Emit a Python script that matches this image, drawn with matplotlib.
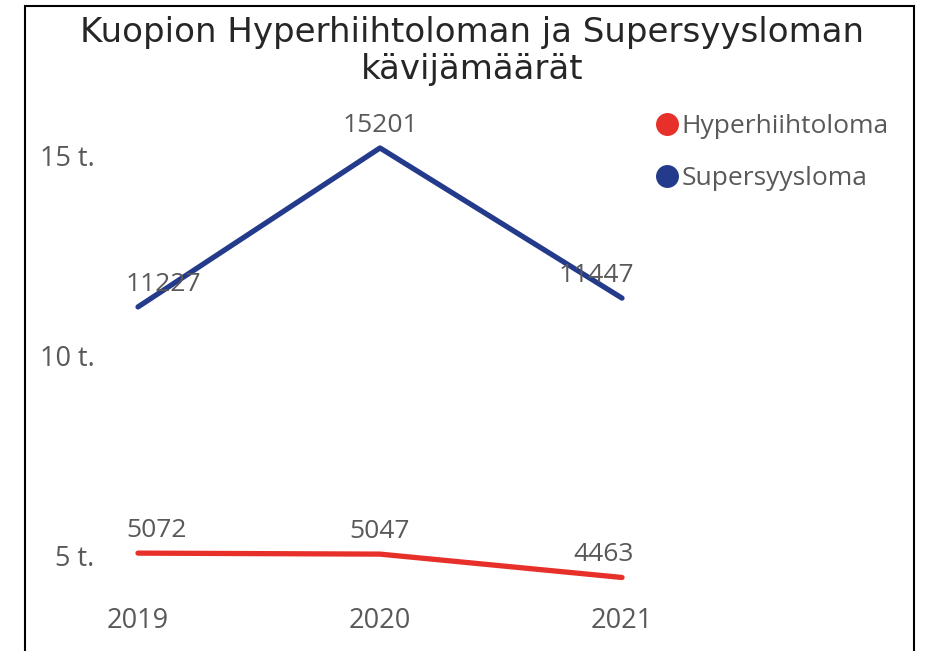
import matplotlib
matplotlib.use("Agg")
import matplotlib.pyplot as plt
from matplotlib.lines import Line2D
from matplotlib.patches import Rectangle

# data
years = ['2019', '2020', '2021']
hyperhiihtoloma = [5072, 5047, 4463]
supersyysloma = [11227, 15201, 11447]
series_names = ['Hyperhiihtoloma', 'Supersyysloma']
y_ticks = [5000, 10000, 15000]
y_tick_labels = ['5 t.', '10 t.', '15 t.']

red = '#E8302A'
blue = '#243B8C'
gray = '#595959'
label_font = 'Open Sans'

fig = plt.figure(figsize=(9.28, 6.51), dpi=100)
ax = fig.add_axes([100 / 928, 1 - 596 / 651, 643 / 928, 500 / 651])

x = list(range(len(years)))
ax.plot(x, hyperhiihtoloma, color=red, lw=3.8, solid_capstyle='round', solid_joinstyle='round')
ax.plot(x, supersyysloma, color=blue, lw=3.8, solid_capstyle='round', solid_joinstyle='round')

# data labels above the points
for values in [hyperhiihtoloma, supersyysloma]:
    for i, v in enumerate(values):
        if i == 0:
            ha, dx = 'left', -12
        elif i == len(values) - 1:
            ha, dx = 'right', 12
        else:
            ha, dx = 'center', 0
        ax.annotate(str(v), (i, v), xytext=(dx, 16), textcoords='offset pixels',
                    ha=ha, va='baseline', fontsize=19, color=gray, family=label_font)

ax.set_xlim(-38 / 242, 2.5)
ax.set_ylim(4000, 16500)
ax.set_xticks(x)
ax.set_xticklabels(years)
ax.set_yticks(y_ticks)
ax.set_yticklabels(y_tick_labels)
ax.tick_params(length=0, labelsize=19.5, labelcolor=gray)
ax.tick_params(axis='x', pad=8)
ax.tick_params(axis='y', pad=4)
for lab in ax.get_xticklabels() + ax.get_yticklabels():
    lab.set_family(label_font)
for s in ax.spines.values():
    s.set_visible(False)

handles = [Line2D([], [], marker='o', ls='none', color=c, markersize=15.5) for c in [red, blue]]
leg = fig.legend(handles, series_names, loc='upper left', bbox_to_anchor=(654 / 928, 1 - 114 / 651),
                 frameon=False, handletextpad=0.05, handlelength=1.0, labelspacing=1.02,
                 borderaxespad=0, borderpad=0,
                 prop={'family': label_font, 'size': 19})
for t in leg.get_texts():
    t.set_color(gray)

fig.text(472 / 928, 1 - 79 / 651, 'Kuopion Hyperhiihtoloman ja Supersyysloman\nkävijämäärät',
         ha='center', va='baseline', fontsize=24.5, color='#262626', linespacing=1.15,
         family='DejaVu Sans')

fig.add_artist(Rectangle((25 / 928, -0.1), (914 - 25) / 928, 1.1 - 6 / 651,
                         transform=fig.transFigure, fill=False, ec='black', lw=1.5))

fig.savefig('out.png', dpi=100)
